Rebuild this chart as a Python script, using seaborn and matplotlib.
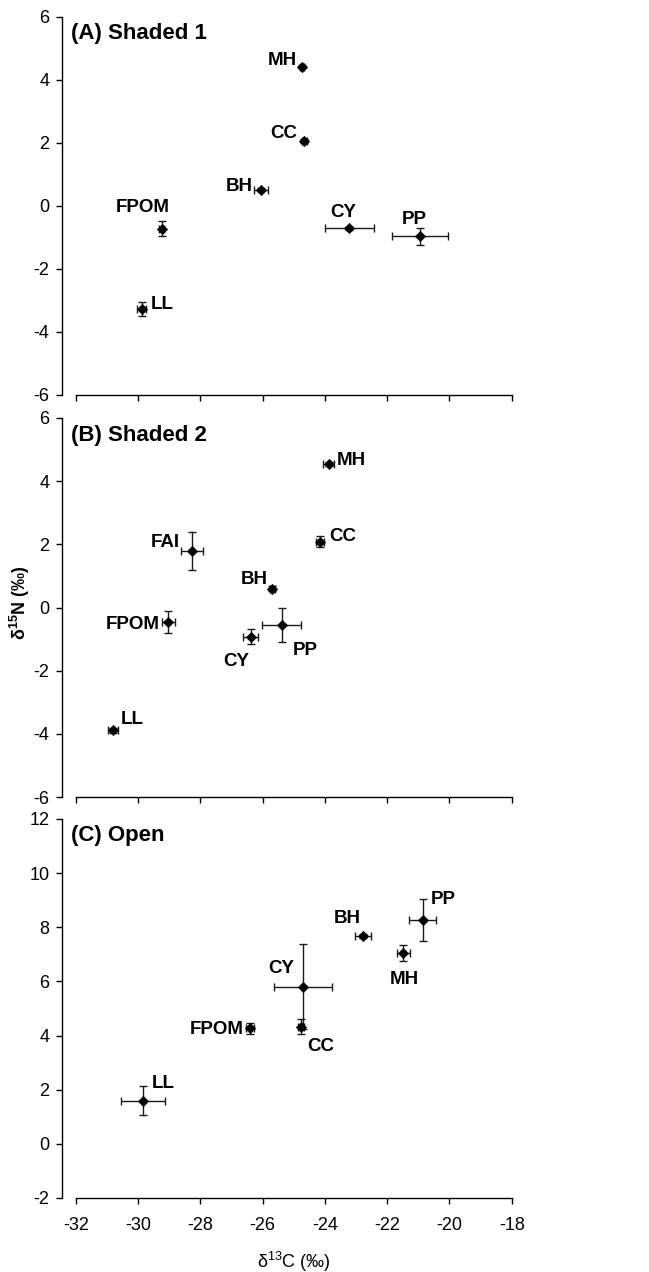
import numpy as np
import pandas as pd
import seaborn as sns
import matplotlib.pyplot as plt
from matplotlib import font_manager

# Panel A: Shaded 1
taxa_a = ['MH', 'CC', 'BH', 'FPOM', 'LL', 'CY', 'PP']
c13_a = [-24.75, -24.66, -26.06, -29.25, -29.89, -23.22, -20.95]
c13_se_a = [0.06, 0.07, 0.22, 0.08, 0.15, 0.79, 0.91]
n15_a = [4.42, 2.06, 0.51, -0.72, -3.27, -0.71, -0.96]
n15_se_a = [0.05, 0.07, 0.05, 0.23, 0.23, 0.05, 0.27]

# Panel B: Shaded 2
taxa_b = ['MH', 'CC', 'FAI', 'BH', 'FPOM', 'CY', 'PP', 'LL']
c13_b = [-23.88, -24.16, -28.26, -25.69, -29.03, -26.39, -25.39, -30.80]
c13_se_b = [0.17, 0.12, 0.35, 0.08, 0.20, 0.24, 0.63, 0.16]
n15_b = [4.54, 2.08, 1.79, 0.60, -0.46, -0.92, -0.54, -3.89]
n15_se_b = [0.06, 0.17, 0.59, 0.08, 0.36, 0.25, 0.54, 0.08]

# Panel C: Open
taxa_c = ['PP', 'BH', 'MH', 'CY', 'CC', 'FPOM', 'LL']
c13_c = [-20.86, -22.77, -21.48, -24.71, -24.77, -26.41, -29.84]
c13_se_c = [0.43, 0.25, 0.20, 0.94, 0.10, 0.12, 0.70]
n15_c = [8.27, 7.67, 7.05, 5.81, 4.33, 4.27, 1.59]
n15_se_c = [0.78, 0.07, 0.30, 1.57, 0.27, 0.20, 0.54]

# label offsets in pixels (centre of text relative to the point)
offsets_a = [(-19.7, 8.3), (-21, 9.3), (-21.7, 5), (-19, 23.3), (20.3, 6.3), (-5.7, 18.3), (-6, 18.3)]
offsets_b = [(23, 5.7), (22.3, 7.7), (-27.3, 10), (-18.3, 11), (-35.3, -0.7), (-14, -22.7), (24, -24.3), (18.7, 12.7)]
offsets_c = [(20.7, 22.3), (-16, 19.3), (1.3, -24.7), (-22, 20.3), (20, -18.3), (-33.7, 0.3), (20.3, 19.7)]

sns.set_style('ticks')
names = {f.name for f in font_manager.fontManager.ttflist}
main_font = 'Liberation Sans Narrow' if 'Liberation Sans Narrow' in names else 'Liberation Sans'
plt.rcParams['font.family'] = [main_font, 'Liberation Sans', 'DejaVu Sans']
plt.rcParams['axes.unicode_minus'] = False
plt.rcParams['mathtext.fontset'] = 'custom'
plt.rcParams['mathtext.rm'] = main_font
plt.rcParams['text.color'] = 'black'
plt.rcParams['axes.labelcolor'] = 'black'

fig = plt.figure(figsize=(6.49, 12.72), dpi=100)

panels = [
    ('(A) Shaded 1', taxa_a, c13_a, c13_se_a, n15_a, n15_se_a, offsets_a, (-6, 6), [0.0955, 0.6895, 0.693, 0.2972]),
    ('(B) Shaded 2', taxa_b, c13_b, c13_se_b, n15_b, n15_se_b, offsets_b, (-6, 6), [0.0955, 0.3734, 0.693, 0.298]),
    ('(C) Open', taxa_c, c13_c, c13_se_c, n15_c, n15_se_c, offsets_c, (-2, 12), [0.0955, 0.0582, 0.693, 0.298]),
]

axes = []
for i, (title, taxa, xc, xse, yn, yse, offs, ylim, rect) in enumerate(panels):
    ax = fig.add_axes(rect)
    df = pd.DataFrame({'taxon': taxa, 'd13C': xc, 'd13C_se': xse, 'd15N': yn, 'd15N_se': yse})

    ax.errorbar(df['d13C'], df['d15N'], xerr=df['d13C_se'], yerr=df['d15N_se'],
                fmt='none', ecolor='#1a1a1a', elinewidth=1.0, capsize=2.6, capthick=1.0, zorder=2)
    sns.scatterplot(data=df, x='d13C', y='d15N', marker='D', color='black', edgecolor='black',
                    s=28, ax=ax, legend=False, zorder=3)

    for name, x, y, (dx, dy) in zip(taxa, xc, yn, offs):
        ax.annotate(name, (x, y), xytext=(dx, dy - 6.5), textcoords='offset pixels',
                    ha='center', va='baseline', fontsize=13.5, fontweight='bold', color='black')

    ax.text(0.02, 0.955, title, transform=ax.transAxes, ha='left', va='center',
            fontsize=16, fontweight='bold', color='black')

    ax.set_xlim(-32.45, -18)
    ax.set_ylim(*ylim)
    ax.set_xticks(np.arange(-32, -17, 2))
    ax.set_yticks(np.arange(ylim[0], ylim[1] + 1, 2))
    ax.spines['bottom'].set_bounds(-32, -18)
    sns.despine(ax=ax)
    for sp in ['left', 'bottom']:
        ax.spines[sp].set_linewidth(1.0)
        ax.spines[sp].set_color('black')
    ax.tick_params(axis='y', direction='out', length=4.5, width=1.0, pad=4.5, labelsize=13, colors='black')
    ax.tick_params(axis='x', direction='out', length=4.5, width=1.0, pad=9, labelsize=13, colors='black')
    ax.set_xlabel('')
    ax.set_ylabel('')
    if i < 2:
        ax.set_xticklabels([])
    axes.append(ax)

axes[1].set_ylabel(r'$\mathregular{\delta^{15}}$N (‰)', fontsize=13, fontweight='bold')
axes[1].yaxis.set_label_coords(-0.093, 0.514)
axes[1].yaxis.label.set_va('center')
axes[2].set_xlabel(r'$\mathregular{\delta^{13}}$C (‰)', fontsize=13)
axes[2].xaxis.set_label_coords(0.516, -0.169)
axes[2].xaxis.label.set_va('center')

fig.savefig('out.png', dpi=100)
